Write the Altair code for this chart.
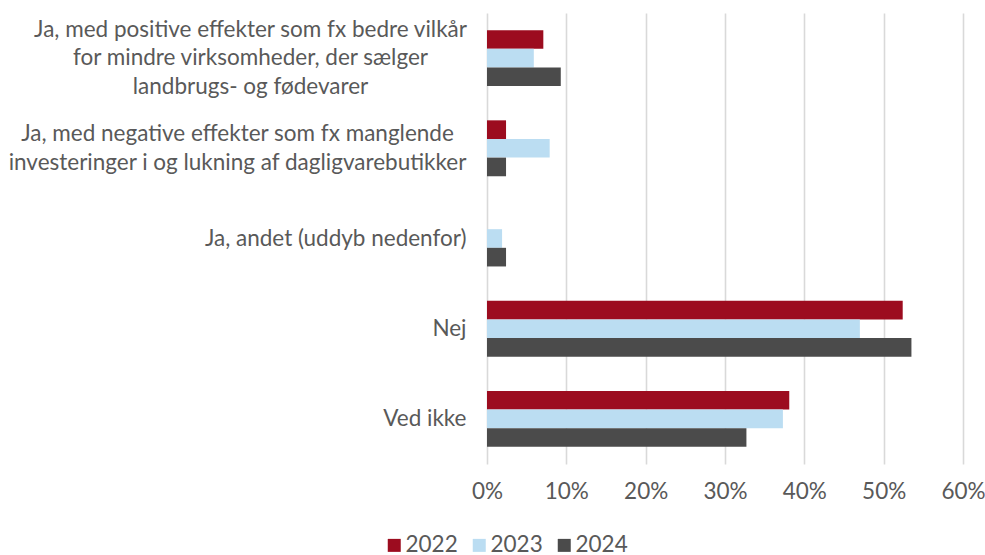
import altair as alt
import pandas as pd

categories = [
    "Ja, med positive effekter som fx bedre vilkår|for mindre virksomheder, der sælger|landbrugs- og fødevarer",
    "Ja, med negative effekter som fx manglende|investeringer i og lukning af dagligvarebutikker",
    "Ja, andet (uddyb nedenfor)",
    "Nej",
    "Ved ikke",
]
years = ["2022", "2023", "2024"]
v2022 = [7.1, 2.4, 0.0, 52.4, 38.1]
v2023 = [5.9, 7.9, 1.9, 47.0, 37.3]
v2024 = [9.3, 2.4, 2.4, 53.5, 32.7]
x_ticks = [0, 10, 20, 30, 40, 50, 60]
colors = ["#9C0C1F", "#BBDDF2", "#4B4B4B"]

rows = []
for yr, vals in zip(years, [v2022, v2023, v2024]):
    for c, v in zip(categories, vals):
        rows.append({"category": c, "year": yr, "value": v})
df = pd.DataFrame(rows)

FONT = "Lato"
TXT = "#595959"
FS = 22.5
LH = 28.5

yscale = alt.Scale(domain=categories, paddingInner=0.38, paddingOuter=0.19)


def label_axis(expr, align, padding, offset):
    return alt.Axis(
        title=None,
        orient="left",
        offset=0,
        labelExpr=expr,
        labelAlign=align,
        labelPadding=padding,
        labelOffset=offset,
        labelLineHeight=LH,
        ticks=False,
        tickSize=0,
        domain=False,
        grid=False,
        labelLimit=0,
        labelFontSize=FS,
        labelFont=FONT,
        labelColor=TXT,
    )


# single-line labels: right aligned next to the axis
axis_single = label_axis(
    "indexof(datum.value, '|') >= 0 ? '' : datum.value", "right", 21, 0
)
# multi-line labels: lines centred inside the block (as in the original)
axis_multi1 = label_axis(
    "datum.value == '%s' ? split(datum.value, '|') : ''" % categories[0].replace("'", "\\'"),
    "center", 237, -LH,
)
axis_multi2 = label_axis(
    "datum.value == '%s' ? split(datum.value, '|') : ''" % categories[1].replace("'", "\\'"),
    "center", 250, -LH / 2,
)

bars = alt.Chart(df).mark_bar().encode(
    x=alt.X(
        "value:Q",
        scale=alt.Scale(domain=[0, 60], nice=False),
        axis=alt.Axis(
            title=None,
            values=x_ticks,
            labelExpr="datum.value + '%'",
            labelFlush=False,
            grid=True,
            gridColor="#D9D9D9",
            gridWidth=1.6,
            domain=False,
            ticks=False,
            labelPadding=16,
            labelFontSize=FS,
            labelFont=FONT,
            labelColor=TXT,
        ),
    ),
    y=alt.Y("category:N", sort=categories, scale=yscale, axis=axis_single),
    yOffset=alt.YOffset("year:N", sort=years),
    color=alt.Color(
        "year:N",
        scale=alt.Scale(domain=years, range=colors),
        legend=alt.Legend(
            title=None,
            orient="none",
            direction="horizontal",
            legendX=-104,
            legendY=521,
            symbolType="square",
            symbolSize=169,
            symbolStrokeWidth=0,
            labelFontSize=FS,
            labelFont=FONT,
            labelColor=TXT,
            labelOffset=0,
            columnPadding=10,
            padding=0,
        ),
    ),
)

labels_multi1 = alt.Chart(df).mark_point(opacity=0).encode(
    y=alt.Y("category:N", sort=categories, scale=yscale, axis=axis_multi1),
)
labels_multi2 = alt.Chart(df).mark_point(opacity=0).encode(
    y=alt.Y("category:N", sort=categories, scale=yscale, axis=axis_multi2),
)

chart = (
    alt.layer(bars, labels_multi1, labels_multi2)
    .resolve_axis(y="independent")
    .properties(
        width=476,
        height=451,
        autosize=alt.AutoSizeParams(type="none"),
        padding={"left": 487, "top": 13, "right": 22, "bottom": 91},
        background="white",
    )
    .configure_view(stroke=None)
)

chart.save("out.html", embed_options={"renderer": "svg", "actions": False})
